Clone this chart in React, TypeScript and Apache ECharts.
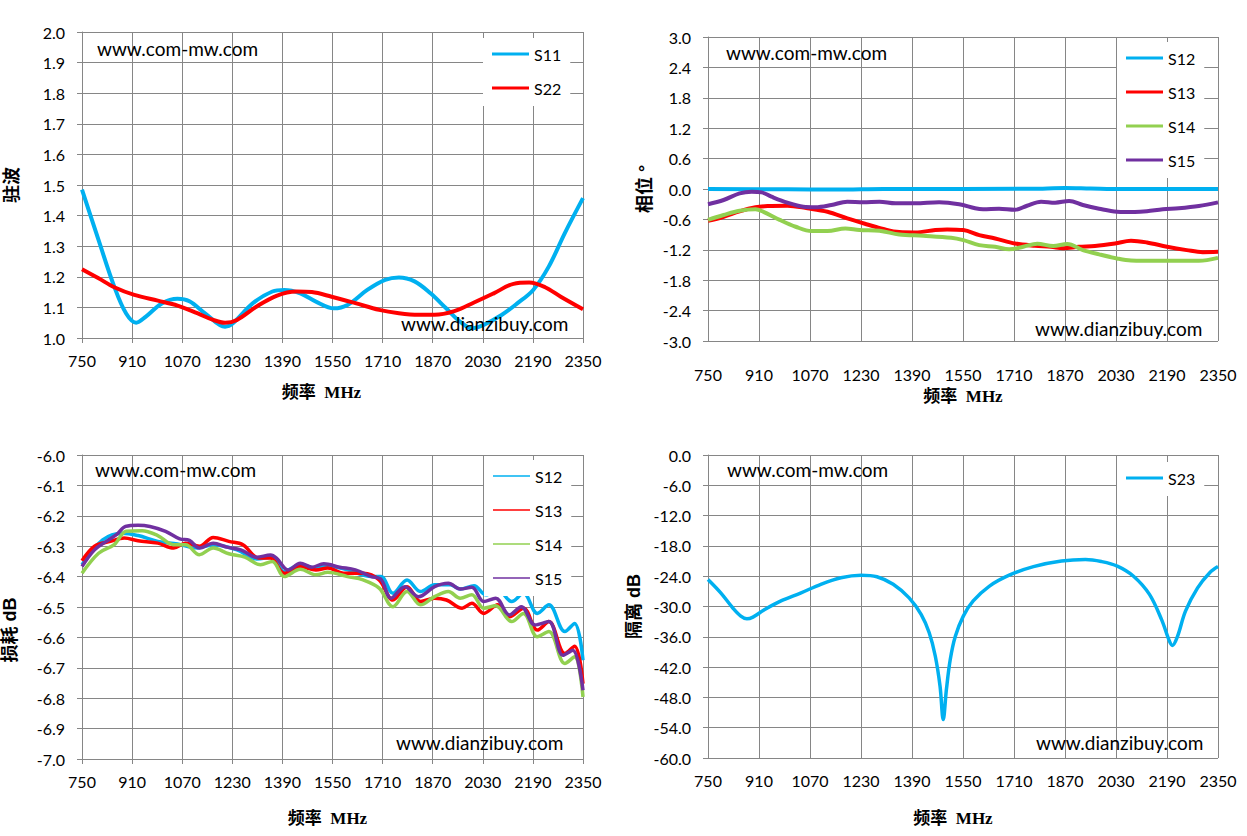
import React, { useEffect, useRef } from 'react';
import * as echarts from 'echarts';

const GRID_COLOR = '#868686';
const BLUE = '#00B0F0';
const RED = '#FF0000';
const GREEN = '#92D050';
const PURPLE = '#7030A0';

// x axis: 频率 MHz
const FREQ_MIN = 750;
const FREQ_MAX = 2350;
const FREQ_STEP = 160;

// 驻波
const vswrS11 = [
  [750, 1.485], [803, 1.32], [853, 1.168], [891, 1.08], [923, 1.05], [954, 1.07],
  [1005, 1.113], [1055, 1.128], [1093, 1.12], [1144, 1.08], [1207, 1.037], [1232, 1.048],
  [1295, 1.113], [1358, 1.152], [1396, 1.157], [1447, 1.146], [1497, 1.119], [1554, 1.097],
  [1598, 1.108], [1661, 1.157], [1718, 1.19], [1762, 1.198], [1812, 1.185], [1863, 1.146],
  [1913, 1.097], [1958, 1.053], [1995, 1.032], [2033, 1.043], [2090, 1.075], [2140, 1.113],
  [2191, 1.157], [2241, 1.234], [2292, 1.343], [2350, 1.457]
];
const vswrS22 = [
  [750, 1.225], [803, 1.195], [853, 1.166], [917, 1.141], [992, 1.122], [1055, 1.106],
  [1118, 1.081], [1169, 1.059], [1207, 1.05], [1245, 1.059], [1308, 1.103], [1371, 1.138],
  [1434, 1.152], [1484, 1.15], [1547, 1.135], [1623, 1.114], [1699, 1.092], [1762, 1.081],
  [1825, 1.076], [1876, 1.076], [1939, 1.088], [2002, 1.116], [2065, 1.146], [2128, 1.177],
  [2178, 1.181], [2229, 1.166], [2279, 1.135], [2350, 1.094]
];

// 相位
const phaseS12 = [
  [750, 0], [1000, -0.005], [1150, -0.012], [1300, 0], [1800, 0.005], [1870, 0.02],
  [1950, 0.01], [2050, 0], [2350, 0]
];
const phaseS13 = [
  [750, -0.63], [799, -0.547], [849, -0.44], [899, -0.36], [937, -0.336], [999, -0.33],
  [1062, -0.38], [1125, -0.448], [1187, -0.58], [1250, -0.7], [1300, -0.79], [1350, -0.85],
  [1400, -0.857], [1463, -0.81], [1500, -0.797], [1551, -0.81], [1601, -0.91], [1651, -0.976],
  [1713, -1.075], [1776, -1.12], [1826, -1.14], [1864, -1.17], [1914, -1.14], [1964, -1.125],
  [2027, -1.075], [2077, -1.02], [2127, -1.055], [2190, -1.14], [2252, -1.206], [2302, -1.246],
  [2350, -1.24]
];
const phaseS14 = [
  [750, -0.61], [799, -0.514], [849, -0.43], [899, -0.4], [924, -0.45], [975, -0.61],
  [1025, -0.745], [1075, -0.83], [1125, -0.83], [1181, -0.78], [1225, -0.81], [1288, -0.824],
  [1350, -0.897], [1425, -0.923], [1513, -0.963], [1551, -1.01], [1601, -1.108], [1651, -1.14],
  [1695, -1.19], [1739, -1.14], [1783, -1.08], [1833, -1.125], [1877, -1.087], [1926, -1.206],
  [1977, -1.29], [2033, -1.37], [2077, -1.41], [2165, -1.417], [2290, -1.417], [2350, -1.36]
];
const phaseS15 = [
  [750, -0.3], [799, -0.217], [849, -0.086], [887, -0.053], [918, -0.066], [949, -0.152],
  [999, -0.27], [1049, -0.35], [1087, -0.36], [1137, -0.316], [1187, -0.25], [1237, -0.26],
  [1288, -0.25], [1338, -0.283], [1400, -0.283], [1475, -0.26], [1538, -0.3], [1588, -0.38],
  [1613, -0.4], [1663, -0.39], [1713, -0.41], [1751, -0.33], [1795, -0.25], [1839, -0.27],
  [1883, -0.237], [1926, -0.316], [1977, -0.39], [2033, -0.448], [2089, -0.455], [2127, -0.44],
  [2177, -0.4], [2227, -0.38], [2290, -0.336], [2350, -0.264]
];

// 损耗 dB
const lossS12 = [
  [750, -6.361], [816, -6.279], [879, -6.257], [929, -6.265], [992, -6.284], [1055, -6.293],
  [1118, -6.306], [1169, -6.295], [1245, -6.312], [1308, -6.342], [1358, -6.336], [1396, -6.383],
  [1447, -6.361], [1497, -6.372], [1535, -6.365], [1598, -6.378], [1674, -6.4], [1705, -6.4],
  [1743, -6.455], [1788, -6.411], [1831, -6.449], [1876, -6.427], [1926, -6.427], [1958, -6.441],
  [2002, -6.43], [2040, -6.46], [2078, -6.443], [2122, -6.482], [2160, -6.455], [2204, -6.521],
  [2241, -6.493], [2292, -6.581], [2323, -6.554], [2350, -6.675]
];
const lossS13 = [
  [750, -6.348], [790, -6.3], [841, -6.284], [885, -6.273], [929, -6.282], [992, -6.29],
  [1043, -6.306], [1081, -6.29], [1125, -6.3], [1169, -6.271], [1219, -6.284], [1264, -6.295],
  [1314, -6.339], [1352, -6.339], [1396, -6.389], [1447, -6.367], [1497, -6.378], [1535, -6.372],
  [1585, -6.389], [1648, -6.389], [1699, -6.411], [1743, -6.477], [1788, -6.433], [1831, -6.482],
  [1876, -6.471], [1914, -6.477], [1964, -6.504], [1995, -6.488], [2033, -6.521], [2078, -6.493],
  [2115, -6.532], [2160, -6.504], [2204, -6.576], [2241, -6.548], [2292, -6.653], [2323, -6.629],
  [2350, -6.752]
];
const lossS14 = [
  [750, -6.389], [803, -6.323], [853, -6.295], [891, -6.251], [942, -6.249], [992, -6.265],
  [1043, -6.295], [1081, -6.295], [1125, -6.328], [1169, -6.306], [1219, -6.325], [1270, -6.336],
  [1320, -6.361], [1358, -6.35], [1396, -6.4], [1447, -6.376], [1497, -6.394], [1535, -6.386],
  [1598, -6.4], [1648, -6.411], [1699, -6.438], [1743, -6.499], [1788, -6.449], [1831, -6.493],
  [1876, -6.466], [1920, -6.449], [1958, -6.471], [1995, -6.46], [2033, -6.504], [2071, -6.496],
  [2122, -6.548], [2160, -6.521], [2204, -6.598], [2241, -6.581], [2292, -6.686], [2323, -6.664],
  [2350, -6.796]
];
const lossS15 = [
  [750, -6.367], [790, -6.312], [828, -6.284], [860, -6.262], [889, -6.235], [929, -6.231],
  [967, -6.235], [1017, -6.251], [1062, -6.276], [1093, -6.281], [1125, -6.306], [1169, -6.29],
  [1213, -6.303], [1257, -6.312], [1308, -6.336], [1352, -6.329], [1371, -6.339], [1409, -6.378],
  [1447, -6.356], [1484, -6.369], [1522, -6.358], [1573, -6.369], [1623, -6.378], [1674, -6.4],
  [1705, -6.409], [1737, -6.471], [1781, -6.433], [1825, -6.466], [1876, -6.433], [1920, -6.422],
  [1958, -6.441], [1995, -6.435], [2033, -6.482], [2071, -6.471], [2115, -6.526], [2153, -6.499],
  [2197, -6.559], [2241, -6.548], [2286, -6.659], [2317, -6.642], [2350, -6.774]
];

// 隔离 dB
const isoS23 = [
  [750, -24.65], [790, -27.3], [828, -30.3], [853, -31.9], [872, -32.45], [891, -32.1],
  [928, -30.6], [979, -28.9], [1042, -27.3], [1104, -25.6], [1167, -24.3], [1230, -23.8],
  [1280, -24.1], [1331, -25.6], [1381, -28.3], [1419, -31.6], [1444, -35.2], [1463, -39.8],
  [1478, -45.8], [1488, -52.4], [1498, -46.4], [1510, -40.5], [1526, -35.9], [1551, -31.9],
  [1582, -28.9], [1632, -26.0], [1695, -23.8], [1771, -22.1], [1859, -21.0], [1934, -20.7],
  [1984, -21.1], [2034, -22.0], [2085, -24.0], [2135, -27.6], [2173, -32.6], [2198, -36.9],
  [2207, -37.7], [2223, -35.9], [2248, -30.9], [2286, -26.3], [2324, -23.3], [2350, -22.1]
];

const LABEL_FONT = 'Lato, "Noto Sans", sans-serif';
const NAME_FONT_X = '"Liberation Serif", "Noto Sans CJK SC", serif';
const NAME_FONT_Y = '"Liberation Sans", "Noto Sans CJK SC", sans-serif';

const fmt1 = (v: number) => (Math.abs(v) < 1e-9 ? '0.0' : v.toFixed(1));

const xAxis = (gridIndex: number, labelMargin: number, nameGap: number, shift: number) => ({
  type: 'value',
  gridIndex,
  min: FREQ_MIN,
  max: FREQ_MAX,
  interval: FREQ_STEP,
  axisLine: { show: true, lineStyle: { color: GRID_COLOR, width: 1 } },
  axisTick: { show: true, inside: false, length: 5, lineStyle: { color: GRID_COLOR } },
  splitLine: { show: true, lineStyle: { color: GRID_COLOR, width: 1 } },
  axisLabel: {
    color: '#000', fontFamily: LABEL_FONT, fontSize: 16, margin: labelMargin,
    formatter: (v: number) => String(Math.round(v))
  },
  name: '频率  MHz',
  nameLocation: 'middle',
  nameGap,
  nameTextStyle: {
    fontFamily: NAME_FONT_X, fontWeight: 'bold', fontSize: 17, color: '#000',
    padding: [0, shift * 2, 0, 0]
  }
});

const yAxis = (gridIndex: number, min: number, max: number, interval: number,
  name: string, nameGap: number, shift: number) => ({
  type: 'value',
  gridIndex,
  min,
  max,
  interval,
  axisLine: { show: true, lineStyle: { color: GRID_COLOR, width: 1 } },
  axisTick: { show: true, inside: false, length: 5, lineStyle: { color: GRID_COLOR } },
  splitLine: { show: true, lineStyle: { color: GRID_COLOR, width: 1 } },
  axisLabel: { color: '#000', fontFamily: LABEL_FONT, fontSize: 16, margin: 17, formatter: fmt1 },
  name,
  nameLocation: 'middle',
  nameGap,
  nameRotate: 90,
  nameTextStyle: {
    fontFamily: NAME_FONT_Y, fontWeight: 'bold', fontSize: 18, color: '#000',
    padding: [0, shift * 2, 0, 0]
  }
});

const line = (name: string, data: number[][], color: string, width: number, idx: number) => ({
  name,
  type: 'line',
  xAxisIndex: idx,
  yAxisIndex: idx,
  data,
  color,
  symbol: 'none',
  showSymbol: false,
  smooth: 0.35,
  lineStyle: { color, width },
  emphasis: { disabled: true }
});

const legend = (data: string[], left: number, top: number, itemHeight: number) => ({
  data,
  orient: 'vertical',
  left,
  top,
  padding: [6, 9, 8, 9],
  backgroundColor: '#fff',
  icon: 'rect',
  itemWidth: 37,
  itemHeight,
  itemGap: 14,
  selectedMode: false,
  textStyle: { fontFamily: LABEL_FONT, fontSize: 16, color: '#000', lineHeight: 20 }
});

const watermark = (text: string, x: number, y: number) => ({
  type: 'text',
  x,
  y,
  z: 100,
  style: { text, fill: '#000', fontFamily: LABEL_FONT, fontSize: 19, verticalAlign: 'middle' }
});

const App: React.FC = () => {
  const chartRef = useRef<HTMLDivElement>(null);

  useEffect(() => {
    if (!chartRef.current) return;
    const chart = echarts.init(chartRef.current, undefined, { renderer: 'svg' });

    const option: any = {
      animation: false,
      backgroundColor: '#fff',
      grid: [
        { left: 82, top: 32, width: 501, height: 306 },
        { left: 708, top: 37, width: 510, height: 304 },
        { left: 82, top: 455, width: 501, height: 304 },
        { left: 708, top: 455, width: 510, height: 303 }
      ],
      xAxis: [
        xAxis(0, 14, 46, 11),
        xAxis(1, 25, 47, 0),
        xAxis(2, 14, 51, 5),
        xAxis(3, 14, 52, 10)
      ],
      yAxis: [
        yAxis(0, 1.0, 2.0, 0.1, '驻波', 61, 0),
        yAxis(1, -3.0, 3.0, 0.6, '相位 °', 54, 0),
        yAxis(2, -7.0, -6.0, 0.1, '损耗 dB', 63, 23),
        yAxis(3, -60, 0, 6, '隔离 dB', 65, 0)
      ],
      legend: [
        legend(['S11', 'S22'], 483, 38, 3),
        legend(['S12', 'S13', 'S14', 'S15'], 1117, 42, 3),
        legend(['S12', 'S13', 'S14', 'S15'], 484, 460, 1.5),
        legend(['S23'], 1117, 462, 3)
      ],
      graphic: [
        watermark('www.com-mw.com', 97, 48),
        watermark('www.dianzibuy.com', 401, 323),
        watermark('www.com-mw.com', 726, 52),
        watermark('www.dianzibuy.com', 1035, 328),
        watermark('www.com-mw.com', 95, 469),
        watermark('www.dianzibuy.com', 396, 742),
        watermark('www.com-mw.com', 727, 469),
        watermark('www.dianzibuy.com', 1036, 742)
      ],
      series: [
        line('S11', vswrS11, BLUE, 4, 0),
        line('S22', vswrS22, RED, 4, 0),
        line('S12', phaseS12, BLUE, 4, 1),
        line('S13', phaseS13, RED, 4, 1),
        line('S14', phaseS14, GREEN, 4, 1),
        line('S15', phaseS15, PURPLE, 4, 1),
        line('S12', lossS12, BLUE, 3.5, 2),
        line('S13', lossS13, RED, 3.5, 2),
        line('S14', lossS14, GREEN, 3.5, 2),
        line('S15', lossS15, PURPLE, 3.5, 2),
        line('S23', isoS23, BLUE, 3.5, 3)
      ]
    };

    chart.setOption(option);
    return () => chart.dispose();
  }, []);

  return (
    <div
      ref={chartRef}
      style={{ position: 'absolute', left: 0, top: 0, width: 1247, height: 836 }}
    />
  );
};

export default App;
